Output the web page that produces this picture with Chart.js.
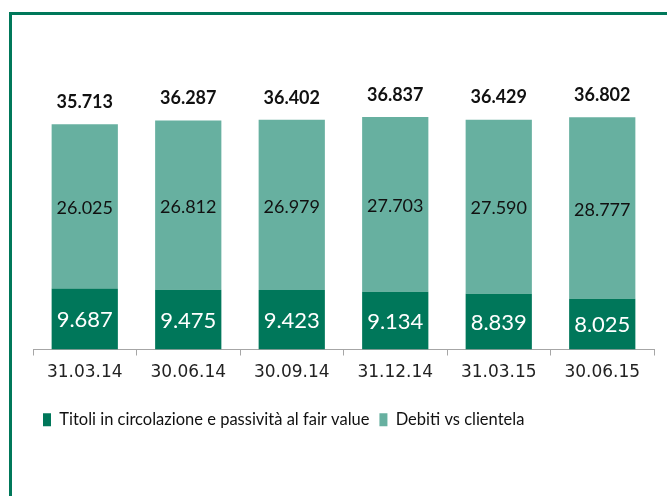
<!DOCTYPE html>
<html>
<head>
<meta charset="utf-8">
<script src="https://cdn.jsdelivr.net/npm/chart.js@4.4.1/dist/chart.umd.min.js"></script>
<style>
    html, body { margin: 0; padding: 0; background: #fff; overflow: hidden; }
    #wrap { position: relative; width: 667px; height: 496px; }
    #frame {
        position: absolute; left: 9px; top: 12px; width: 700px; height: 600px;
        border-top: 3px solid #00785a; border-left: 3px solid #00785a;
    }
    #RaccoltaChart { position: absolute; left: 0; top: 0; }
</style>
</head>
<body>
<div id="wrap">
    <div id="frame"></div>
    <canvas id="RaccoltaChart" width="667" height="496"></canvas>
</div>
<script>
const raccolta_date = ["31.03.14", "30.06.14", "30.09.14", "31.12.14", "31.03.15", "30.06.15"];
const raccolta_titoli = [9687, 9475, 9423, 9134, 8839, 8025];
const raccolta_debiti = [26025, 26812, 26979, 27703, 27590, 28777];
const raccolta_totale = [35713, 36287, 36402, 36837, 36429, 36802];

const FONT = "Lato, 'Open Sans', sans-serif";

function fmt(v) {
    return String(v).replace(/\B(?=(\d{3})+(?!\d))/g, ".");
}

// etichette dentro le barre e totali sopra
const barLabels = {
    id: "barLabels",
    afterDatasetsDraw(chart) {
        const ctx = chart.ctx;
        ctx.save();
        ctx.textAlign = "center";
        ctx.textBaseline = "middle";
        const m0 = chart.getDatasetMeta(0);
        const m1 = chart.getDatasetMeta(1);
        m0.data.forEach(function(bar, i) {
            ctx.fillStyle = "#ffffff";
            ctx.font = "22px " + FONT;
            ctx.fillText(fmt(raccolta_titoli[i]), bar.x, (bar.y + bar.base) / 2 + 1);
        });
        m1.data.forEach(function(bar, i) {
            ctx.fillStyle = "#111111";
            ctx.font = "18px " + FONT;
            ctx.fillText(fmt(raccolta_debiti[i]), bar.x, (bar.y + bar.base) / 2 + 2);
            ctx.font = "bold 18px " + FONT;
            ctx.fillText(fmt(raccolta_totale[i]), bar.x, bar.y - 22);
        });
        ctx.restore();
    }
};

const ctx = document.getElementById("RaccoltaChart").getContext("2d");

new Chart(ctx, {
    type: "bar",
    data: {
        labels: raccolta_date,
        datasets: [
            {
                label: "Titoli in circolazione e passività al fair value",
                data: raccolta_titoli,
                backgroundColor: "#00775a",
                borderWidth: 0,
                categoryPercentage: 1,
                barPercentage: 0.64
            },
            {
                label: "Debiti vs clientela",
                data: raccolta_debiti,
                backgroundColor: "#67b0a0",
                borderWidth: 0,
                categoryPercentage: 1,
                barPercentage: 0.64
            }
        ]
    },
    options: {
        responsive: false,
        animation: false,
        layout: {
            padding: { left: 33, right: 13, top: 34, bottom: 58 }
        },
        plugins: {
            legend: {
                display: true,
                position: "bottom",
                align: "start",
                labels: {
                    color: "#111111",
                    font: { family: FONT, size: 16.5 },
                    boxWidth: 8,
                    boxHeight: 13,
                    padding: 10
                }
            },
            tooltip: { enabled: false }
        },
        scales: {
            x: {
                stacked: true,
                ticks: {
                    color: "#222222",
                    font: { family: "'DejaVu Sans', sans-serif", size: 17 },
                    padding: 7
                },
                grid: {
                    drawOnChartArea: false,
                    tickLength: 6,
                    color: "#a6a6a6"
                },
                border: { color: "#a6a6a6" },
                afterFit: function(axis) {
                    axis.height = 52;
                }
            },
            y: {
                display: false,
                stacked: true,
                min: 0,
                max: 50000
            }
        }
    },
    plugins: [barLabels]
});
</script>
</body>
</html>
